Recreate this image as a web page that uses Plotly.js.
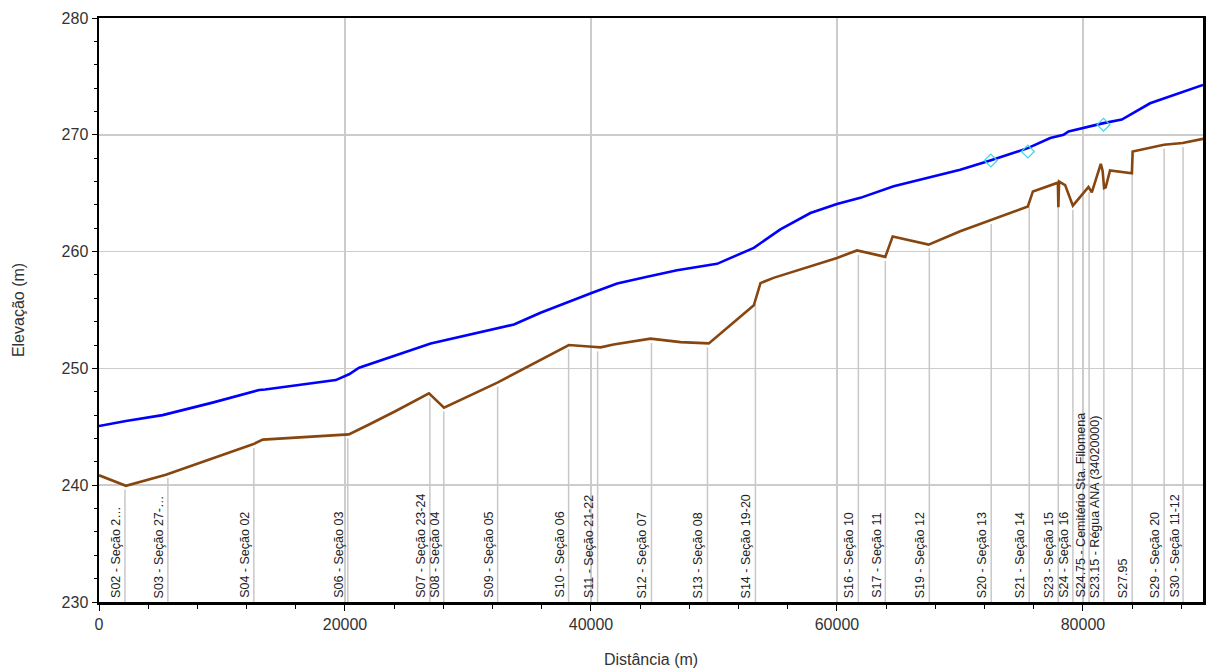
<!DOCTYPE html>
<html>
<head>
<meta charset="utf-8">
<script src="https://cdn.plot.ly/plotly-3.0.1.min.js"></script>
<style>
  html, body { margin: 0; padding: 0; background: #fff; }
  #chart { width: 1207px; height: 670px; }
</style>
</head>
<body>
<div id="chart"></div>
<script>
// ---- Data ----
// Ground (channel invert) profile
const bedDist = [0, 2190, 5440, 12510, 13320, 20310, 21960, 24130, 26830, 28050, 32390, 38200, 40100, 40780, 41840, 44840, 47280, 49580, 53240, 53780, 54840, 60000, 61630, 63930, 64530, 67450, 70020, 75520, 75930, 77340, 77820, 77960, 78000, 78060, 78550, 79180, 80450, 80720, 81450, 81600, 81720, 81850, 82200, 83820, 83980, 84040, 86580, 88100, 89760];
const bedElev = [240.85, 239.95, 240.9, 243.5, 243.9, 244.35, 245.2, 246.35, 247.86, 246.64, 248.78, 252.0, 251.85, 251.8, 252.05, 252.55, 252.25, 252.14, 255.4, 257.3, 257.75, 259.46, 260.1, 259.55, 261.3, 260.6, 261.74, 263.87, 265.15, 265.7, 265.86, 265.9, 263.8, 266.0, 265.7, 263.93, 265.53, 265.07, 267.52, 266.9, 265.44, 265.5, 266.95, 266.73, 266.7, 268.57, 269.15, 269.3, 269.65];

// Water surface profile
const wsDist = [0, 2190, 5170, 9230, 13020, 13500, 19250, 20330, 21150, 24130, 26970, 33740, 35900, 40100, 42130, 44570, 47000, 50250, 53240, 55400, 57840, 60000, 61900, 64610, 70020, 72460, 75520, 77340, 78420, 78830, 81670, 83160, 85460, 89760];
const wsElev = [245.07, 245.5, 246.0, 247.07, 248.15, 248.2, 249.0, 249.5, 250.06, 251.1, 252.14, 253.76, 254.76, 256.47, 257.27, 257.84, 258.4, 258.95, 260.32, 261.9, 263.3, 264.07, 264.6, 265.6, 267.0, 267.8, 268.86, 269.72, 270.0, 270.29, 271.0, 271.3, 272.7, 274.27];

// Observed water surface
const obsDist = [72510, 75520, 81670];
const obsElev = [267.8, 268.57, 270.86];

// Cross-section stations and labels
const sectionDist = [2110, 5600, 12590, 20230, 26900, 28030, 32410, 38180, 40540, 44920, 49470, 53370, 61740, 63930, 67510, 72540, 75630, 77990, 79180, 80500, 81700, 84000, 86600, 88140];
const sectionLabels = ["S02 - Seção 2…", "S03 - Seção 27-…", "S04 - Seção 02", "S06 - Seção 03", "S07 - Seção 23-24", "S08 - Seção 04", "S09 - Seção 05", "S10 - Seção 06", "S11 - Seção 21-22", "S12 - Seção 07", "S13 - Seção 08", "S14 - Seção 19-20", "S16 - Seção 10", "S17 - Seção 11", "S19 - Seção 12", "S20 - Seção 13", "S21 - Seção 14", "S23 - Seção 15", "S24 - Seção 16", "S24.75 - Cemitério Sta. Filomena", "S23.15 - Régua ANA (34020000)", "S27.95", "S29 - Seção 20", "S30 - Seção 11-12"];

// Axis settings
const xRange = [0, 89760];
const yRange = [230, 280];

// ---- Build ----
function interp(xs, ys, x) {
  for (let i = 0; i < xs.length - 1; i++) {
    if (x >= xs[i] && x <= xs[i + 1]) {
      const t = (x - xs[i]) / (xs[i + 1] - xs[i]);
      return ys[i] + t * (ys[i + 1] - ys[i]);
    }
  }
  return ys[ys.length - 1];
}

const secX = [], secY = [];
sectionDist.forEach(d => {
  const top = interp(bedDist, bedElev, d) - 0.35;
  secX.push(d, d, null);
  secY.push(yRange[0], top, null);
});

const FONT = "Arial, 'Liberation Sans', sans-serif";

const traces = [
  { x: secX, y: secY, mode: 'lines', line: { color: '#c8c8c8', width: 1.5 }, hoverinfo: 'skip' },
  { x: bedDist, y: bedElev, mode: 'lines', name: 'Ground', line: { color: 'rgb(135,70,15)', width: 2.6 } },
  { x: wsDist, y: wsElev, mode: 'lines', name: 'WS', line: { color: 'rgb(0,0,255)', width: 2.6 } },
  { x: obsDist, y: obsElev, mode: 'markers', name: 'Obs WS',
    marker: { symbol: 'diamond-open', size: 10, color: 'rgb(64,215,225)', line: { width: 1.2 } } }
];

const annotations = sectionDist.map((d, i) => ({
  x: d, y: yRange[0], xref: 'x', yref: 'y',
  text: sectionLabels[i], showarrow: false, textangle: -90,
  xanchor: 'right', yanchor: 'bottom', xshift: 0, yshift: 2,
  font: { family: FONT, size: 12.5, color: '#222' }
}));

const layout = {
  width: 1207, height: 670,
  margin: { l: 99, r: 4, t: 18, b: 68 },
  paper_bgcolor: '#fff', plot_bgcolor: '#fff',
  showlegend: false, hovermode: false,
  font: { family: FONT, color: '#333' },
  xaxis: {
    range: xRange, dtick: 20000, tick0: 0, tickformat: 'd',
    showgrid: true, gridcolor: '#cccccc', gridwidth: 1.5, zeroline: false,
    showline: true, linecolor: '#000', linewidth: 2.5, mirror: true,
    ticks: 'outside', ticklen: 6, tickcolor: '#000', tickwidth: 1,
    minor: { dtick: 4000, ticks: 'outside', ticklen: 4, tickcolor: '#000', showgrid: false },
    tickfont: { family: FONT, size: 16, color: '#333' },
    title: { text: 'Distância (m)', font: { family: FONT, size: 16, color: '#333' }, standoff: 22 }
  },
  yaxis: {
    range: yRange, dtick: 10, tick0: 230,
    showgrid: true, gridcolor: '#cccccc', gridwidth: 1.5, zeroline: false,
    showline: true, linecolor: '#000', linewidth: 2.5, mirror: true,
    ticks: 'outside', ticklen: 5, tickcolor: '#000', tickwidth: 1,
    minor: { dtick: 2, ticks: 'outside', ticklen: 3, tickcolor: '#000', showgrid: false },
    tickfont: { family: FONT, size: 16, color: '#333' },
    title: { text: 'Elevação (m)', font: { family: FONT, size: 16, color: '#333' }, standoff: 33 }
  },
  annotations: annotations
};

Plotly.newPlot('chart', traces, layout, { staticPlot: true, displayModeBar: false });
</script>
</body>
</html>
